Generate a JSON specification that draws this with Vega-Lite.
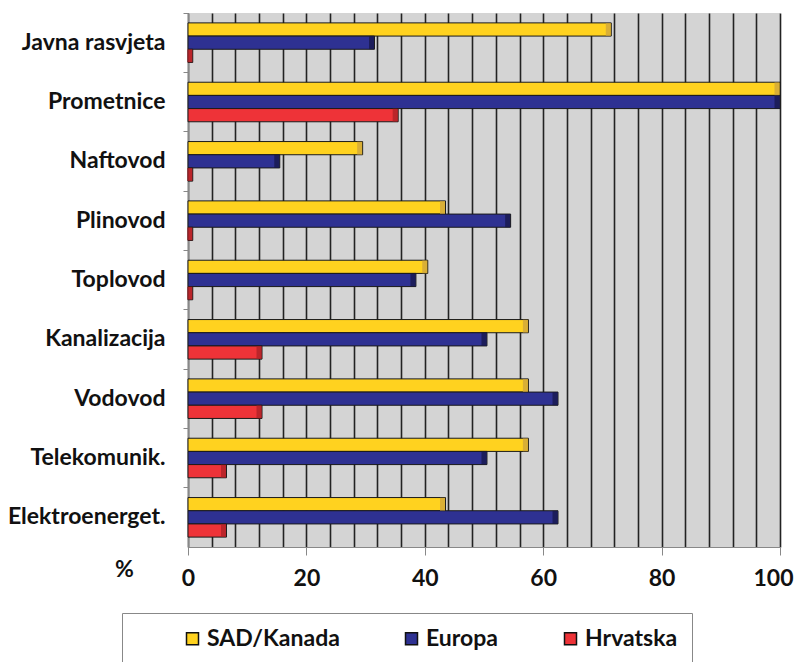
{
  "$schema": "https://vega.github.io/schema/vega-lite/v6.json",
  "width": 592,
  "height": 534,
  "autosize": "none",
  "padding": {"left": 188, "top": 13, "right": 16, "bottom": 115},
  "background": "white",
  "config": {"view": {"fill": "#d4d4d4", "stroke": null}, "font": "Lato"},
  "data": {
    "values": [
      {"kategorija": "Javna rasvjeta", "serija": "SAD/Kanada", "vrijednost": 71.5},
      {"kategorija": "Javna rasvjeta", "serija": "Europa", "vrijednost": 31.5},
      {"kategorija": "Javna rasvjeta", "serija": "Hrvatska", "vrijednost": 0.8},
      {"kategorija": "Prometnice", "serija": "SAD/Kanada", "vrijednost": 100},
      {"kategorija": "Prometnice", "serija": "Europa", "vrijednost": 100},
      {"kategorija": "Prometnice", "serija": "Hrvatska", "vrijednost": 35.5},
      {"kategorija": "Naftovod", "serija": "SAD/Kanada", "vrijednost": 29.5},
      {"kategorija": "Naftovod", "serija": "Europa", "vrijednost": 15.5},
      {"kategorija": "Naftovod", "serija": "Hrvatska", "vrijednost": 0.8},
      {"kategorija": "Plinovod", "serija": "SAD/Kanada", "vrijednost": 43.5},
      {"kategorija": "Plinovod", "serija": "Europa", "vrijednost": 54.5},
      {"kategorija": "Plinovod", "serija": "Hrvatska", "vrijednost": 0.8},
      {"kategorija": "Toplovod", "serija": "SAD/Kanada", "vrijednost": 40.5},
      {"kategorija": "Toplovod", "serija": "Europa", "vrijednost": 38.5},
      {"kategorija": "Toplovod", "serija": "Hrvatska", "vrijednost": 0.8},
      {"kategorija": "Kanalizacija", "serija": "SAD/Kanada", "vrijednost": 57.5},
      {"kategorija": "Kanalizacija", "serija": "Europa", "vrijednost": 50.5},
      {"kategorija": "Kanalizacija", "serija": "Hrvatska", "vrijednost": 12.5},
      {"kategorija": "Vodovod", "serija": "SAD/Kanada", "vrijednost": 57.5},
      {"kategorija": "Vodovod", "serija": "Europa", "vrijednost": 62.5},
      {"kategorija": "Vodovod", "serija": "Hrvatska", "vrijednost": 12.5},
      {"kategorija": "Telekomunik.", "serija": "SAD/Kanada", "vrijednost": 57.5},
      {"kategorija": "Telekomunik.", "serija": "Europa", "vrijednost": 50.5},
      {"kategorija": "Telekomunik.", "serija": "Hrvatska", "vrijednost": 6.5},
      {"kategorija": "Elektroenerget.", "serija": "SAD/Kanada", "vrijednost": 43.5},
      {"kategorija": "Elektroenerget.", "serija": "Europa", "vrijednost": 62.5},
      {"kategorija": "Elektroenerget.", "serija": "Hrvatska", "vrijednost": 6.5}
    ]
  },
  "encoding": {
    "y": {
      "field": "kategorija",
      "type": "nominal",
      "sort": ["Javna rasvjeta", "Prometnice", "Naftovod", "Plinovod", "Toplovod", "Kanalizacija", "Vodovod", "Telekomunik.", "Elektroenerget."],
      "scale": {"paddingInner": 0, "paddingOuter": 0},
      "axis": {
        "title": null,
        "bandPosition": 0,
        "labelFontSize": 23,
        "labelFontWeight": "bold",
        "labelColor": "#111111",
        "labelPadding": 18,
        "labelLimit": 300,
        "tickSize": 5,
        "tickColor": "#888888",
        "domainColor": "#888888",
        "grid": false
      }
    },
    "yOffset": {
      "field": "serija",
      "type": "nominal",
      "sort": ["SAD/Kanada", "Europa", "Hrvatska"],
      "scale": {"paddingInner": 0, "paddingOuter": 0.75}
    },
    "x": {
      "field": "vrijednost",
      "type": "quantitative",
      "scale": {"domain": [0, 100], "nice": false, "zero": true},
      "axis": {
        "values": [0, 4, 8, 12, 16, 20, 24, 28, 32, 36, 40, 44, 48, 52, 56, 60, 64, 68, 72, 76, 80, 84, 88, 92, 96, 100],
        "labelExpr": "datum.value % 20 === 0 ? datum.label : ''",
        "labelOffset": {"condition": {"test": "datum.value === 100", "value": -7}, "value": 0},
        "tickOpacity": {"condition": {"test": "datum.value % 20 === 0", "value": 1}, "value": 0},
        "tickSize": 8,
        "tickColor": "#888888",
        "domainColor": "#888888",
        "grid": true,
        "gridColor": "#222222",
        "gridWidth": 1.6,
        "gridOpacity": 1,
        "labelFontSize": 23,
        "labelFontWeight": "bold",
        "labelColor": "#111111",
        "labelPadding": 12,
        "labelFlush": false,
        "title": "%",
        "titleFontSize": 23,
        "titleFontWeight": "bold",
        "titleColor": "#111111",
        "titleX": -64,
        "titleY": 22,
        "titleAlign": "center",
        "titleBaseline": "middle",
        "titleAnchor": null
      }
    }
  },
  "layer": [
    {
      "mark": {"type": "bar", "stroke": "#1a1a1a", "strokeWidth": 1},
      "encoding": {
        "color": {
          "field": "serija",
          "type": "nominal",
          "sort": ["SAD/Kanada", "Europa", "Hrvatska"],
          "scale": {"domain": ["SAD/Kanada", "Europa", "Hrvatska"], "range": ["#FFD21F", "#2E3192", "#EE3338"]},
          "legend": {
            "orient": "none",
            "legendX": -66,
            "legendY": 600,
            "direction": "horizontal",
            "columns": 3,
            "title": " ",
            "titleOrient": "left",
            "titlePadding": 45,
            "titleFontSize": 10,
            "fillColor": "white",
            "strokeColor": "#888888",
            "padding": 14,
            "symbolType": "square",
            "symbolSize": 144,
            "symbolStrokeColor": "#111111",
            "symbolStrokeWidth": 1.5,
            "symbolOpacity": 1,
            "labelFontSize": 23,
            "labelFontWeight": "bold",
            "labelColor": "#111111",
            "labelOffset": 3,
            "labelLimit": 160,
            "columnPadding": 60,
            "labelExpr": "datum.label === 'Hrvatska' ? datum.label + '\u00a0\u00a0\u00a0\u00a0\u00a0\u00a0' : datum.label"
          }
        }
      }
    },
    {
      "mark": {"type": "tick", "orient": "vertical", "thickness": 5, "xOffset": -3, "size": 13},
      "encoding": {
        "color": {
          "field": "serija",
          "type": "nominal",
          "scale": {"domain": ["SAD/Kanada", "Europa", "Hrvatska"], "range": ["#C9A040", "#151545", "#A52025"]},
          "legend": null
        }
      }
    }
  ],
  "resolve": {"scale": {"color": "independent"}}
}
